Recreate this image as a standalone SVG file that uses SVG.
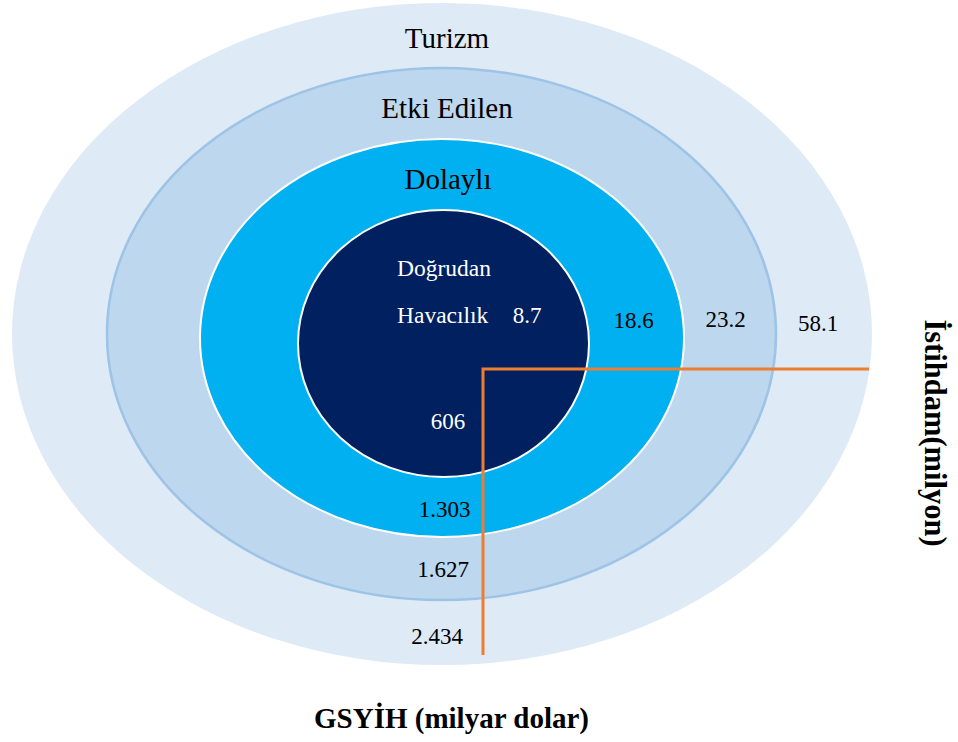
<svg xmlns="http://www.w3.org/2000/svg" width="958" height="742" viewBox="0 0 958 742">
<style>
.t{font-family:"Liberation Serif","Times New Roman",serif;fill:#000}
.w{fill:#fff}
.b{font-weight:bold}
</style>
<rect width="958" height="742" fill="#fff"/>
<g id="turizm">
<ellipse cx="442" cy="334" rx="430" ry="331" fill="#DEEAF6"/>
<text class="t" x="447" y="48" font-size="29" text-anchor="middle">Turizm</text>
<text class="t" x="818" y="331" font-size="23" text-anchor="middle">58.1</text>
<text class="t" x="437" y="644" font-size="23" text-anchor="middle">2.434</text>
</g>
<g id="etki-edilen">
<ellipse cx="441.5" cy="334" rx="334.5" ry="266" fill="#BDD7EE" stroke="#9DC3E6" stroke-width="2.5"/>
<text class="t" x="447" y="118" font-size="29" text-anchor="middle">Etki Edilen</text>
<text class="t" x="725.5" y="327" font-size="23" text-anchor="middle">23.2</text>
<text class="t" x="443" y="577" font-size="23" text-anchor="middle">1.627</text>
</g>
<g id="dolayli">
<ellipse cx="442" cy="338" rx="242" ry="199" fill="#00B0F0" stroke="#fff" stroke-width="2"/>
<text class="t" x="448" y="189" font-size="29" text-anchor="middle">Dolaylı</text>
<text class="t" x="633.5" y="328" font-size="23" text-anchor="middle">18.6</text>
<text class="t" x="444.5" y="517" font-size="23" text-anchor="middle">1.303</text>
</g>
<g id="dogrudan">
<ellipse cx="443.5" cy="343.5" rx="145.5" ry="133.5" fill="#002060" stroke="#fff" stroke-width="2"/>
<text class="t w" x="397" y="276" font-size="23.5">Doğrudan</text>
<text class="t w" x="397" y="323" font-size="23.5">Havacılık</text>
<text class="t w" x="527" y="323" font-size="23" text-anchor="middle">8.7</text>
<text class="t w" x="448" y="429" font-size="23" text-anchor="middle">606</text>
</g>
<g id="axes">
<path d="M483,655 V369 H869" fill="none" stroke="#ED7D31" stroke-width="3"/>
</g>
<g id="labels">
<text class="t b" x="451.5" y="728" font-size="29" text-anchor="middle">GSYİH (milyar dolar)</text>
<text class="t b" font-size="30.5" text-anchor="middle" transform="translate(925,433) rotate(90)">İstihdam(milyon)</text>
</g>
</svg>
